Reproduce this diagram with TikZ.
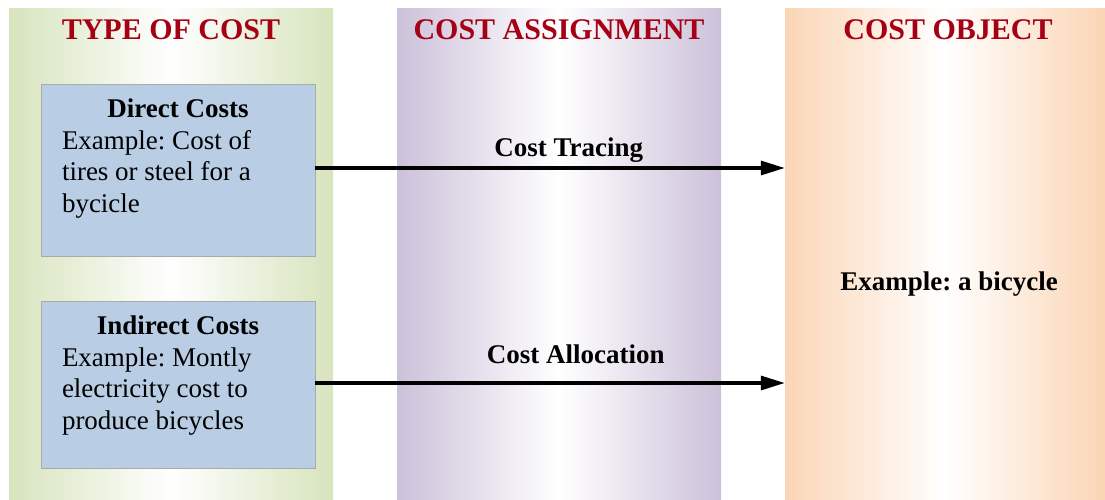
\documentclass[tikz,border=0pt]{standalone}
\usepackage{fontspec}
\setmainfont{Liberation Serif}
\usetikzlibrary{arrows.meta}
\frenchspacing

\definecolor{greencol}{RGB}{215,228,189}
\definecolor{violetcol}{RGB}{204,193,218}
\definecolor{orangecol}{RGB}{251,213,181}
\definecolor{boxblue}{RGB}{185,205,229}
\definecolor{boxline}{RGB}{170,170,170}
\definecolor{headred}{RGB}{165,0,20}

% heading centred, rest ragged right, fixed height
\newcommand{\costcell}[3]{\parbox[c][#1][t]{232pt}{{\centering\textbf{#2}\par}\raggedright #3}}

\begin{document}
\begin{tikzpicture}[x=1pt,y=-1pt,
  column/.style={minimum width=324pt,minimum height=491pt,inner sep=0pt,
    left color=#1,right color=#1,middle color=white},
  heading/.style={font=\fontsize{30}{34}\selectfont\bfseries,text=headred,anchor=base},
  costbox/.style={draw=boxline,fill=boxblue,inner xsep=21pt,inner ysep=15pt,
    font=\fontsize{27}{31.5}\selectfont},
  flow/.style={line width=3.2pt,-{Triangle[length=24pt,width=14pt]}},
  flowlabel/.style={font=\fontsize{27}{31.5}\selectfont\bfseries,anchor=base}]

\useasboundingbox (0,0) rectangle (1105,499);

% columns
\node[column=greencol] (type) at (171,253.5) {};
\node[column=violetcol] (assign) at (559,253.5) {};
\node[column=orangecol,minimum width=320pt] (object) at (945,253.5) {};

\node[heading] (typehead) at ([yshift=-32pt]type.north) {TYPE OF COST};
\node[heading] (assignhead) at ([yshift=-32pt]assign.north) {COST ASSIGNMENT};
\node[heading] (objecthead) at ([xshift=3pt,yshift=-32pt]object.north) {COST OBJECT};

% kinds of cost
\node[costbox] (direct) at (178,170)
  {\costcell{142pt}{Direct Costs}{Example: Cost of\\tires or steel for a\\bycicle}};
\node[costbox] (indirect) at (178,384.5)
  {\costcell{137pt}{Indirect Costs}{Example: Montly\\electricity cost to\\produce bicycles}};

\node[flowlabel] (bike) at (949,290) {Example: a bicycle};

\draw[flow] ([yshift=2pt]direct.east) -- node[flowlabel,pos=.54,yshift=12pt] {Cost Tracing} ([yshift=2pt]direct.east -| object.west);
\draw[flow] ([yshift=1.5pt]indirect.east) -- node[flowlabel,pos=.555,yshift=20pt] {Cost Allocation} ([yshift=1.5pt]indirect.east -| object.west);

\end{tikzpicture}
\end{document}
